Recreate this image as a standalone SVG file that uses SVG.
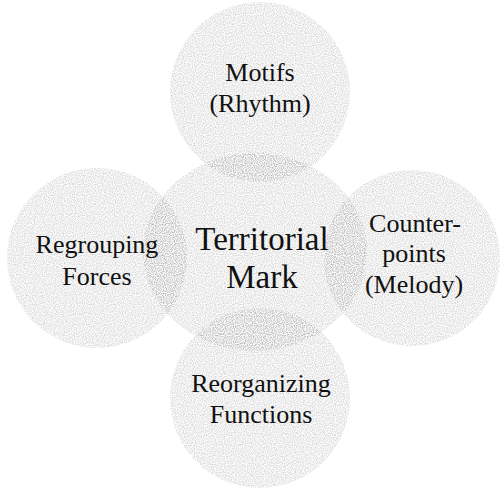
<svg xmlns="http://www.w3.org/2000/svg" width="500" height="490" viewBox="0 0 500 490">
<defs>
<filter id="stip" x="0" y="0" width="500" height="490" filterUnits="userSpaceOnUse">
<feTurbulence type="fractalNoise" baseFrequency="0.9" numOctaves="1" seed="3" result="n"/>
<feColorMatrix in="n" type="matrix" values="0 0 0 0 0  0 0 0 0 0  0 0 0 0 0  0 0 0 -2.2 1.45" result="m"/>
<feComposite in="SourceGraphic" in2="m" operator="in"/>
</filter>
</defs>
<style>
.c{fill:#444;fill-opacity:0.24}
</style>
<rect width="500" height="490" fill="#fff"/>
<g id="nodes" filter="url(#stip)">
<g id="node-center"><ellipse class="c" cx="255" cy="252" rx="112" ry="99"/></g>
<g id="node-top"><circle class="c" cx="260" cy="92" r="90"/></g>
<g id="node-left"><circle class="c" cx="97" cy="258" r="90"/></g>
<g id="node-right"><circle class="c" cx="412" cy="258" r="88"/></g>
<g id="node-bottom"><circle class="c" cx="260" cy="398" r="90"/></g>
</g>
<g id="labels" fill="#111" text-anchor="middle">
<text x="262" y="250" font-size="33" font-family="Liberation Serif, serif">Territorial</text>
<text x="262" y="288" font-size="33" font-family="Liberation Serif, serif">Mark</text>
<text x="260" y="81" font-size="26" font-family="Liberation Serif, serif">Motifs</text>
<text x="260" y="112" font-size="26" font-family="Liberation Serif, serif">(Rhythm)</text>
<text x="97" y="253" font-size="26" font-family="Liberation Serif, serif">Regrouping</text>
<text x="97" y="285" font-size="26" font-family="Liberation Serif, serif">Forces</text>
<text x="415" y="232" font-size="26" font-family="Liberation Serif, serif">Counter-</text>
<text x="414" y="262" font-size="26" font-family="Liberation Serif, serif">points</text>
<text x="414" y="293" font-size="26" font-family="Liberation Serif, serif">(Melody)</text>
<text x="261" y="392" font-size="26" font-family="Liberation Serif, serif">Reorganizing</text>
<text x="261" y="423" font-size="26" font-family="Liberation Serif, serif">Functions</text>
</g>
</svg>
